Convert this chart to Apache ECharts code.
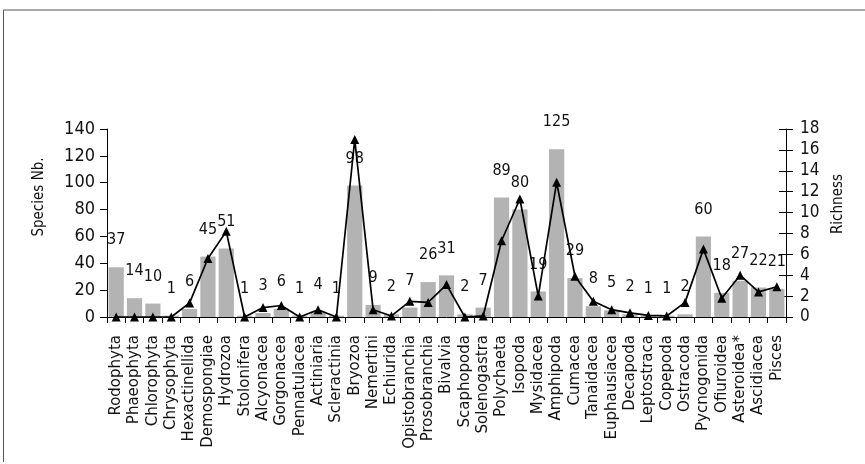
<!DOCTYPE html>
<html>
<head>
<meta charset="utf-8">
<script src="https://cdn.jsdelivr.net/npm/echarts@6/dist/echarts.min.js"></script>
<style>
html,body{margin:0;padding:0;background:#fff;}
#chart{width:865px;height:464px;}
</style>
</head>
<body>
<div id="chart"></div>
<script>
const categories = ["Rodophyta","Phaeophyta","Chlorophyta","Chrysophyta","Hexactinellida","Demospongiae","Hydrozoa","Stolonifera","Alcyonacea","Gorgonacea","Pennatulacea","Actiniaria","Scleractinia","Bryozoa","Nemertini","Echiurida","Opistobranchia","Prosobranchia","Bivalvia","Scaphopoda","Solenogastra","Polychaeta","Isopoda","Mysidacea","Amphipoda","Cumacea","Tanaidacea","Euphausiacea","Decapoda","Leptostraca","Copepoda","Ostracoda","Pycnogonida","Ofiuroidea","Asteroidea*","Ascidiacea","Pisces"];
const speciesNb = [37,14,10,1,6,45,51,1,3,6,1,4,1,98,9,2,7,26,31,2,7,89,80,19,125,29,8,5,2,1,1,2,60,18,27,22,21];
const richness = [0,0,0,0,1.35,5.6,8.2,0,0.9,1.1,0,0.7,0,17.0,0.7,0.1,1.5,1.4,3.1,0,0.1,7.3,11.3,2.0,12.9,3.9,1.5,0.7,0.4,0.15,0.1,1.4,6.5,1.8,4.0,2.4,2.9];
const leftAxis = {min:0, max:140, interval:20};
const rightAxis = {min:0, max:18, interval:2};

const numFont = '"Liberation Sans Narrow","DejaVu Sans Condensed","Liberation Sans",Arial,sans-serif';
const chart = echarts.init(document.getElementById('chart'), null, {renderer:'canvas'});
chart.setOption({
  animation:false,
  backgroundColor:'#fff',
  graphic:[
    {type:'line', shape:{x1:3.5,y1:10,x2:3.5,y2:462}, style:{stroke:'#555',lineWidth:1}},
    {type:'line', shape:{x1:3.5,y1:10,x2:865,y2:10}, style:{stroke:'#555',lineWidth:1}}
  ],
  grid:{left:107,right:79,top:129,bottom:147,containLabel:false},
  xAxis:{
    type:'category', data:categories,
    axisLine:{lineStyle:{color:'#000',width:1}},
    axisTick:{show:true,length:6,alignWithLabel:false,lineStyle:{color:'#000'}},
    axisLabel:{interval:0,rotate:90,margin:18,color:'#111',fontSize:15,fontFamily:'"DejaVu Sans",sans-serif'}
  },
  yAxis:[
    {type:'value',position:'left',min:leftAxis.min,max:leftAxis.max,interval:leftAxis.interval,
     name:'Species Nb.',nameLocation:'middle',nameGap:60,nameRotate:90,
     nameTextStyle:{color:'#111',fontSize:15,fontFamily:numFont,padding:[0,0,0,52]},
     axisLine:{show:true,lineStyle:{color:'#000'}},
     axisTick:{show:true,length:7,lineStyle:{color:'#000'}},
     axisLabel:{margin:12,color:'#111',fontSize:18,fontFamily:numFont},
     splitLine:{show:false}},
    {type:'value',position:'right',min:rightAxis.min,max:rightAxis.max,interval:rightAxis.interval,
     name:'Richness',nameLocation:'middle',nameGap:42,nameRotate:90,
     nameTextStyle:{color:'#111',fontSize:15,fontFamily:numFont,padding:[0,0,0,38]},
     axisLine:{show:true,lineStyle:{color:'#000'}},
     axisTick:{show:true,length:7,lineStyle:{color:'#000'}},
     axisLabel:{margin:14,color:'#111',fontSize:17,fontFamily:numFont},
     splitLine:{show:false}},
    {type:'value',position:'right',min:rightAxis.min,max:rightAxis.max,interval:rightAxis.interval,
     axisLine:{show:false},
     axisTick:{show:true,inside:true,length:7,lineStyle:{color:'#000'}},
     axisLabel:{show:false},splitLine:{show:false}}
  ],
  series:[
    {type:'bar',name:'Species Nb.',data:speciesNb,yAxisIndex:0,barCategoryGap:'17%',
     itemStyle:{color:'#b3b3b3'},
     label:{show:true,position:'top',distance:19,color:'#111',fontSize:16,fontFamily:numFont}},
    {type:'line',name:'Richness',data:richness,yAxisIndex:1,
     symbol:'triangle',symbolSize:9,
     lineStyle:{color:'#000',width:1.7},itemStyle:{color:'#000'}}
  ]
});
</script>
</body>
</html>
